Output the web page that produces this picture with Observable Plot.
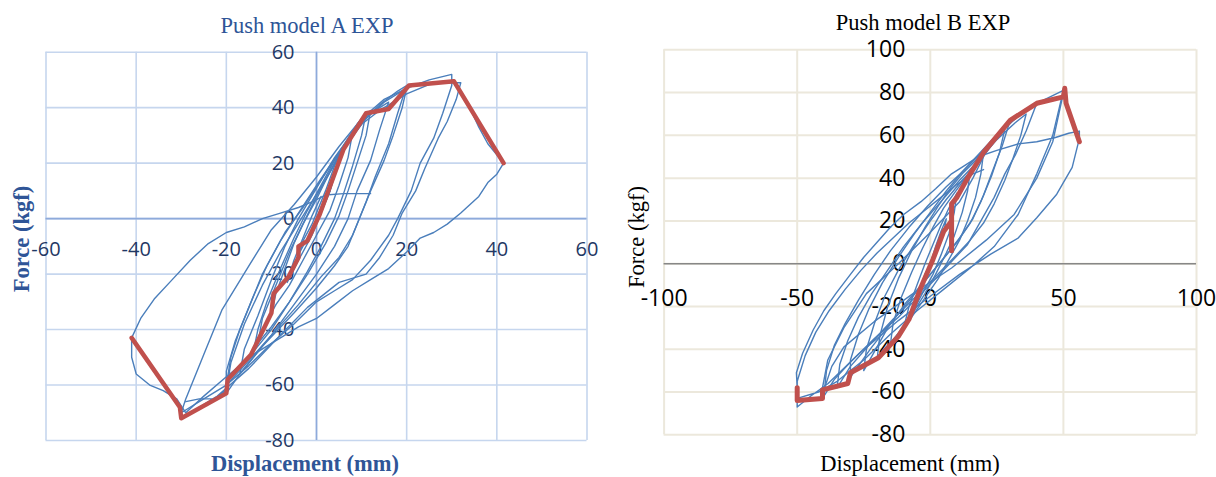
<!DOCTYPE html>
<html><head><meta charset="utf-8">
<script src="https://cdn.jsdelivr.net/npm/d3@7"></script>
<script src="https://cdn.jsdelivr.net/npm/@observablehq/plot@0.6"></script>
<style>
html,body{margin:0;padding:0;background:#fff;width:1216px;height:477px;overflow:hidden;}
#wrap{position:relative;width:1216px;height:477px;}
.chart{position:absolute;top:0;}
.lbl{position:absolute;white-space:nowrap;font-family:"Liberation Serif","Times New Roman",serif;font-size:22.5px;line-height:1;transform:translate(-50%,-50%);}
.rot{transform:translate(-50%,-50%) rotate(-90deg);}
</style></head><body><div id="wrap"></div>
<script>
// ---- Chart A (Push model A EXP) ----
const xTicksA = [-60,-40,-20,0,20,40,60];
const yTicksA = [-80,-60,-40,-20,0,20,40,60];
const loopA1 = [[0,0],[1.5,6],[3,12],[4,16],[3,10],[1.5,4],[0,-1],[-2,-7],[-4,-13],[-3,-8],[-1,-2],[0,2]];
const loopA2 = [[0,2],[2,10],[4,19],[5.5,25],[4.5,18],[3,10],[1,2],[-1,-6],[-4,-15],[-6.5,-23],[-5,-15],[-3,-7],[-1,1],[1,8]];
const loopA3 = [[-10,-34],[-9,-27],[-7,-18],[-5,-9],[-3,-2],[0,8],[3,17],[6,26],[8,31],[7,22],[5,12],[3,3],[0,-6],[-3,-15],[-6,-24],[-9,-31],[-10,-34]];
const loopA4 = [[-14,-48],[-13,-40],[-11,-30],[-8,-18],[-5,-7],[-2,3],[1,12],[4,21],[7,29],[9,34],[11,38],[10,30],[8,19],[6,9],[4,0],[1,-10],[-2,-19],[-6,-30],[-10,-40],[-14,-48]];
const loopA5 = [[-17,-56],[-16,-47],[-13,-35],[-10,-22],[-7,-10],[-4,0],[0,11],[4,22],[8,31],[12,38],[16,42],[14,32],[12,21],[9,10],[7,0],[4,-10],[0,-20],[-5,-31],[-10,-42],[-17,-56]];
const loopA6 = [[-20,-63],[-20,-55],[-18,-44],[-15,-32],[-12,-20],[-8,-8],[-4,2],[0,12],[5,24],[10,35],[14,41],[18,46],[20,48],[18,38],[16,27],[13,15],[11,6],[9,-2],[7,-10],[4,-17],[0,-25],[-5,-34],[-12,-46],[-17,-56],[-20,-63]];
const loopA7 = [[-30,-70],[-29,-65],[-25,-49],[-21,-33],[-15,-17],[-10,-4],[-5,5],[0,15],[5,26],[10,36],[15,43],[20,47],[25,50],[30,52],[30,48],[28,38],[26,29],[23,20],[21,10],[18,0],[16,-6],[12,-15],[8,-22],[4,-26],[0,-30],[-5,-38],[-10,-45],[-15,-53],[-20,-60],[-25,-65],[-30,-70]];
const loopA8 = [[-29,-66],[-26,-65],[-23,-65],[-20,-62],[-19,-52],[-16,-38],[-12,-24],[-8,-12],[-3,1],[2,14],[6,25],[10,34],[14,39],[20,45],[26,49],[32,49],[31,43],[29,35],[27,29],[24,18],[22,10],[19,2],[17,-6],[14,-14],[11,-20],[5,-23],[-2,-32],[-8,-42],[-15,-54],[-22,-64],[-29,-71]];
const loopA9 = [[30,50],[32,46],[34,40],[36,33],[38,27],[40,23],[41.5,20],[40,16],[38,13],[36,8],[34,5],[32,2],[29,-2],[26,-5],[23,-7],[20,-12],[16,-18],[12,-22],[8,-26],[4,-31],[0,-36],[-4,-39],[-9,-44],[-14,-49],[-20,-57],[-25,-64],[-29,-70],[-31,-65],[-34,-62],[-37,-60],[-40,-56],[-41,-50],[-41,-43],[-39,-36],[-36,-29],[-32,-22],[-28,-15],[-24,-9],[-20,-5],[-16,-3],[-12,0],[-8,2],[-4,4],[-1,6],[2,8.5],[6,9],[12,9]];
const loopA10 = [[-20,-60],[-19,-50],[-17,-40],[-14,-28],[-11,-17],[-7,-5],[-3,4],[1,14],[6,26],[11,36],[15,42],[20,47],[19,40],[17,30],[15,21],[12,10],[10,2],[8,-6],[5,-14],[1,-21],[-4,-31],[-10,-42],[-16,-53],[-20,-60]];
const loopA11 = [[-13,-45],[-12,-36],[-9,-24],[-6,-12],[-3,-2],[0,7],[3,17],[6,26],[9,33],[12,39],[11,30],[9,20],[7,10],[5,1],[2,-9],[-2,-20],[-6,-30],[-10,-39],[-13,-45]];
const redA = [[-41,-43],[-30.3,-68],[-30,-72],[-20,-63],[-19.7,-58],[-14.5,-49],[-10,-34],[-9.5,-27],[-6.2,-21],[-4,-14],[-4,-10],[-2,-8],[0.7,1.5],[3.3,13],[6,25],[8.5,31.5],[11,38],[16,39.5],[20.5,48],[30.5,49.5],[41.5,20]];

// ---- Chart B (Push model B EXP) ----
const xTicksB = [-100,-50,0,50,100];
const yTicksB = [-80,-60,-40,-20,0,20,40,60,80,100];
const loopB1 = [[0,0],[2,8],[4,15],[6,21],[5,14],[3,7],[0,-2],[-3,-10],[-6,-19],[-4,-12],[-2,-5],[0,0]];
const loopB2 = [[-10,-30],[-8,-20],[-5,-10],[-2,0],[1,9],[4,18],[7,26],[10,33],[9,24],[7,14],[4,4],[1,-5],[-3,-14],[-6,-21],[-10,-30]];
const loopB3 = [[-15,-38],[-14,-28],[-11,-16],[-7,-4],[-3,7],[1,17],[5,26],[9,33],[12,38],[15,43],[14,34],[12,24],[9,13],[6,5],[2,-5],[-2,-14],[-6,-22],[-10,-29],[-15,-38]];
const loopB4 = [[-20,-45],[-19,-34],[-16,-20],[-12,-7],[-7,6],[-2,17],[3,27],[8,36],[12,42],[16,47],[20,52],[19,42],[17,31],[14,20],[11,11],[7,2],[3,-7],[-2,-16],[-7,-25],[-13,-34],[-20,-45]];
const loopB5 = [[-30,-53],[-30,-45],[-27,-33],[-23,-21],[-18,-9],[-12,3],[-6,14],[0,24],[6,34],[12,43],[18,51],[24,59],[30,67],[27,55],[23,42],[20,32],[16,21],[11,12],[6,4],[0,-5],[-7,-16],[-15,-28],[-22,-39],[-30,-53]];
const loopB6 = [[-40,-62],[-39,-50],[-36,-38],[-32,-28],[-27,-17],[-21,-5],[-15,6],[-8,17],[-1,27],[6,36],[13,44],[20,53],[27,62],[33,69],[40,75],[36,62],[32,51],[28,42],[24,31],[19,20],[14,9],[8,1],[2,-7],[-5,-16],[-12,-25],[-21,-35],[-30,-46],[-36,-54],[-40,-62]];
const loopB7 = [[-40.5,-58],[-38.5,-45],[-32.5,-30],[-24,-14],[-12,0],[-0.5,14],[11,29],[16,40],[20,50],[25,60],[30,67],[35,71],[40,75],[45,78],[50,81],[49.5,77],[46,57],[40,40],[31.5,23],[21,11],[8,-2],[-6.5,-14],[-21,-27],[-32.5,-39],[-37,-48],[-40.5,-61]];
const loopB8 = [[50,81],[46,60],[40,42],[33,23],[24,8],[15,-2],[5,-12],[-5,-22],[-15,-33],[-25,-45],[-35,-55],[-42,-60],[-50,-63],[-50,-58],[-50.3,-51],[-48,-42],[-44,-31],[-40,-22],[-35.5,-14],[-30,-5],[-25,3],[-20,10],[-15,17],[-10,23],[-3.5,29],[2,35],[8,42],[13,46],[18,50],[25,53],[33,56],[40,57],[47,59],[52,61],[56,62],[56,58],[55.5,56],[53.3,45],[47.5,32.5],[40,21.5],[33,12],[22.7,4.5],[11,-5],[-0.5,-15.7],[-12,-26.6],[-26.7,-42],[-38.4,-56],[-45,-62],[-50,-67],[-50,-55],[-47,-43],[-43,-32],[-38,-22],[-32,-12],[-26,-3],[-20,5],[-14,12],[-8,19],[-2,25],[4,31],[10,37],[16,42],[20,44]];
const loopB9 = [[-25,-50],[-24,-40],[-21,-28],[-17,-15],[-12,-3],[-6,9],[0,20],[6,30],[12,39],[18,47],[24,57],[28,63],[26,52],[23,41],[19,29],[15,19],[10,10],[4,1],[-2,-8],[-9,-18],[-16,-30],[-25,-50]];
const loopB10 = [[-35,-58],[-34,-47],[-31,-36],[-27,-25],[-22,-14],[-16,-3],[-10,8],[-3,19],[4,29],[11,39],[18,48],[25,58],[32,66],[36,70],[34,60],[31,49],[28,39],[24,28],[20,19],[15,11],[9,3],[2,-6],[-6,-16],[-14,-26],[-23,-38],[-30,-48],[-35,-58]];
const redB = [[56,57],[51,75],[50.5,82],[50,78],[40,75],[30,67],[20,52],[14,40],[10,31],[8,28],[8,6],[8,20],[5,15],[1,2],[-3.5,-11],[-8,-26],[-12,-34],[-19.5,-44],[-30,-51],[-31,-56],[-40.5,-59],[-40.5,-63],[-50,-64],[-50,-58]];

function rows(loops){ return loops.flatMap(([k, pts]) => pts.map(([x,y]) => ({k, x, y}))); }
const rowsA = rows([["A1",loopA1],["A2",loopA2],["A3",loopA3],["A4",loopA4],["A5",loopA5],["A6",loopA6],["A7",loopA7],["A8",loopA8],["A9",loopA9],["A10",loopA10],["A11",loopA11]]);
const rowsB = rows([["B1",loopB1],["B2",loopB2],["B3",loopB3],["B4",loopB4],["B5",loopB5],["B6",loopB6],["B7",loopB7],["B8",loopB8],["B9",loopB9],["B10",loopB10]]);

const wrap = document.getElementById("wrap");

const chartA = Plot.plot({
  width:608, height:477, marginLeft:45.5, marginRight:21.5, marginTop:51.7, marginBottom:37,
  x:{domain:[-60,60], axis:null}, y:{domain:[-80,60], axis:null},
  style:{background:"transparent", overflow:"visible"},
  marks:[
    Plot.ruleX(xTicksA,{stroke:"#c6d6ee",strokeWidth:1.6}),
    Plot.ruleY(yTicksA,{stroke:"#c6d6ee",strokeWidth:1.6}),
    Plot.ruleX([0],{stroke:"#8eaadb",strokeWidth:1.6}),
    Plot.ruleY([0],{stroke:"#8eaadb",strokeWidth:1.6}),
    Plot.text(xTicksA,{x:d=>d,y:0,dy:31,text:d=>String(d),fill:"#1f3864",fontSize:20,fontFamily:"Open Sans"}),
    Plot.text(yTicksA,{x:0,y:d=>d,dx:-22,textAnchor:"end",text:d=>String(d),fill:"#1f3864",fontSize:20,fontFamily:"Open Sans"}),
    Plot.line(rowsA,{x:"x",y:"y",z:"k",stroke:"#4a7ebb",strokeWidth:1.4,strokeLinejoin:"round"}),
    Plot.line(redA,{x:d=>d[0],y:d=>d[1],stroke:"#c0504d",strokeWidth:4.5,strokeLinejoin:"round"})
  ]
});
chartA.classList.add("chart"); chartA.style.left="0px";
wrap.appendChild(chartA);

const chartB = Plot.plot({
  width:608, height:477, marginLeft:55.6, marginRight:20, marginTop:49.3, marginBottom:42.7,
  x:{domain:[-100,100], axis:null}, y:{domain:[-80,100], axis:null},
  style:{background:"transparent", overflow:"visible"},
  marks:[
    Plot.ruleX(xTicksB,{stroke:"#ece8dc",strokeWidth:2}),
    Plot.ruleY(yTicksB,{stroke:"#ece8dc",strokeWidth:2}),
    Plot.ruleY([0],{stroke:"#878787",strokeWidth:1.6}),
    Plot.text(xTicksB,{x:d=>d,y:0,dy:35,text:d=>String(d),fill:"#000",fontSize:23,fontFamily:"Open Sans"}),
    Plot.text(yTicksB,{x:0,y:d=>d,dx:-25,textAnchor:"end",text:d=>String(d),fill:"#000",fontSize:23,fontFamily:"Open Sans"}),
    Plot.line(rowsB,{x:"x",y:"y",z:"k",stroke:"#4a7ebb",strokeWidth:1.4,strokeLinejoin:"round"}),
    Plot.line(redB,{x:d=>d[0],y:d=>d[1],stroke:"#c0504d",strokeWidth:5,strokeLinejoin:"round"})
  ]
});
chartB.classList.add("chart"); chartB.style.left="608px";
wrap.appendChild(chartB);

function label(text, x, y, opts){
  const d = document.createElement("div");
  d.className = "lbl" + (opts.rot ? " rot" : "");
  d.textContent = text;
  d.style.left = x + "px"; d.style.top = y + "px";
  d.style.color = opts.color || "#000";
  if (opts.bold) d.style.fontWeight = "bold";
  wrap.appendChild(d);
}
label("Push model A EXP", 307, 26, {color:"#2e5597"});
label("Force (kgf)", 21.5, 239, {color:"#2f5597", bold:true, rot:true});
label("Displacement (mm)", 305, 464, {color:"#2f5597", bold:true});
label("Push model B EXP", 923, 22.5, {color:"#000"});
label("Force (kgf)", 637, 236.5, {color:"#000", rot:true});
label("Displacement (mm)", 910, 464, {color:"#000"});
</script></body></html>
